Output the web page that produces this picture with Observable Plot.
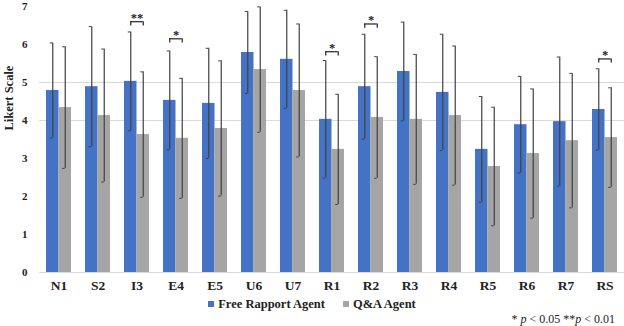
<!DOCTYPE html>
<html>
<head>
<meta charset="utf-8">
<script src="https://cdn.jsdelivr.net/npm/d3@7"></script>
<script src="https://cdn.jsdelivr.net/npm/@observablehq/plot@0.6"></script>
<style>
  html, body { margin: 0; padding: 0; background: #fff; }
  #wrap { width: 624px; height: 326px; overflow: hidden; }
  svg text { font-family: "Liberation Serif", "Times New Roman", serif; }
  svg [aria-label^="x-axis"] text { font-size: 13.5px; font-weight: bold; }
  svg [aria-label^="y-axis"] text { font-size: 11px; font-weight: bold; }
  .legend { height: 16px; display: flex; justify-content: center; align-items: center; gap: 18px;
    font-family: "Liberation Serif", "Times New Roman", serif; font-weight: bold; font-size: 12.5px; color: #222; }
  .legend span.sw { display: inline-block; width: 6px; height: 6px; margin-right: 4px; vertical-align: middle; }
  .legend .item { display: flex; align-items: center; }
  .note { height: 14px; text-align: right; padding-right: 9px; font-family: "Liberation Serif", "Times New Roman", serif;
    font-size: 12px; color: #222; line-height: 14px; }
</style>
</head>
<body>
<div id="wrap"></div>
<script>
const categories = ["N1","S2","I3","E4","E5","U6","U7","R1","R2","R3","R4","R5","R6","R7","RS"];
const freeMean = [4.79,4.89,5.03,4.53,4.45,5.79,5.61,4.03,4.89,5.29,4.74,3.24,3.89,3.97,4.29];
const freeSD   = [1.25,1.58,1.30,1.30,1.45,1.08,1.29,1.55,1.38,1.30,1.53,1.39,1.27,1.70,1.07];
const qaMean   = [4.34,4.13,3.63,3.53,3.79,5.34,4.79,3.24,4.08,4.03,4.13,2.79,3.13,3.47,3.55];
const qaSD     = [1.60,1.75,1.65,1.58,1.78,1.65,1.75,1.45,1.60,1.71,1.83,1.56,1.70,1.77,1.31];
const sigCats  = ["I3","E4","R1","R2","RS"];
const sigLevel = [6.6, 6.15, 5.81, 6.54, 5.62];
const sigLabel = ["**","*","*","*","*"];
const yTicks = [0,1,2,3,4,5,6,7];
const seriesNames = ["Free Rapport Agent","Q&A Agent"];
const colors = ["#4472C4","#A5A5A5"];

const W = 624, H = 296, mL = 39, mR = 0, mT = 6, mB = 24;
const padIn = 0.36, padOut = 0.18;
const bw = d3.scaleBand().domain(categories).range([mL, W - mR]).paddingInner(padIn).paddingOuter(padOut).bandwidth();
const q = bw / 4, cap = 2.5, leg = 0.11;

const rows = categories.map((c, i) => ({
  cat: c, free: freeMean[i], fLo: freeMean[i] - freeSD[i], fHi: freeMean[i] + freeSD[i],
  qa: qaMean[i], qLo: qaMean[i] - qaSD[i], qHi: Math.min(7, qaMean[i] + qaSD[i])
}));
const sig = sigCats.map((c, i) => ({cat: c, level: sigLevel[i], label: sigLabel[i]}));
const errStroke = "#404040";
const serif = "Liberation Serif, Times New Roman, serif";

const chart = Plot.plot({
  width: W, height: H, marginLeft: mL, marginRight: mR, marginTop: mT, marginBottom: mB,
  style: {fontFamily: serif, fontWeight: "bold", fontSize: "11px", color: "#222", background: "#fff"},
  x: {domain: categories, paddingInner: padIn, paddingOuter: padOut, round: false, tickSize: 0, tickPadding: 8, label: null},
  y: {domain: [0, 7], ticks: yTicks, tickFormat: "d", tickSize: 0, tickPadding: 12, label: null},
  marks: [
    Plot.ruleY([4, 5], {stroke: "#d9d9d9", strokeWidth: 1}),
    Plot.ruleY([0], {stroke: "#d9d9d9", strokeWidth: 1}),
    Plot.barY(rows, {x: "cat", y: "free", fill: colors[0], insetRight: bw / 2}),
    Plot.barY(rows, {x: "cat", y: "qa", fill: colors[1], insetLeft: bw / 2}),
    Plot.ruleX(rows, {x: "cat", y1: "fLo", y2: "fHi", dx: -q, stroke: errStroke, strokeWidth: 1.2}),
    Plot.ruleX(rows, {x: "cat", y1: "qLo", y2: "qHi", dx: q, stroke: errStroke, strokeWidth: 1.2}),
    Plot.tickY(rows, {x: "cat", y: "fHi", insetLeft: q - cap, insetRight: 3 * q, stroke: errStroke}),
    Plot.tickY(rows, {x: "cat", y: "fLo", insetLeft: q - cap, insetRight: 3 * q, stroke: errStroke}),
    Plot.tickY(rows, {x: "cat", y: "qHi", insetLeft: 3 * q - cap, insetRight: q, stroke: errStroke}),
    Plot.tickY(rows, {x: "cat", y: "qLo", insetLeft: 3 * q - cap, insetRight: q, stroke: errStroke}),
    Plot.tickY(sig, {x: "cat", y: "level", insetLeft: q, insetRight: q, stroke: "#222", strokeWidth: 1.2}),
    Plot.ruleX(sig, {x: "cat", y1: "level", y2: d => d.level - leg, dx: -q, stroke: "#222", strokeWidth: 1.2}),
    Plot.ruleX(sig, {x: "cat", y1: "level", y2: d => d.level - leg, dx: q, stroke: "#222", strokeWidth: 1.2}),
    Plot.text(sig, {x: "cat", y: "level", text: "label", dy: -4, fontSize: 12.5, fontWeight: "bold", fontFamily: serif, fill: "#222", lineAnchor: "middle"}),
    Plot.text(["Likert Scale"], {frameAnchor: "left", text: d => d, rotate: -90, dx: -31, dy: -9, fontSize: 12.5, fontWeight: "bold", fontFamily: serif, fill: "#222"})
  ]
});

const wrap = document.getElementById("wrap");
wrap.appendChild(chart);

const legend = document.createElement("div");
legend.className = "legend";
seriesNames.forEach((n, i) => {
  const it = document.createElement("div");
  it.className = "item";
  const sw = document.createElement("span");
  sw.className = "sw";
  sw.style.background = colors[i];
  it.appendChild(sw);
  it.appendChild(document.createTextNode(n));
  legend.appendChild(it);
});
wrap.appendChild(legend);

const note = document.createElement("div");
note.className = "note";
note.innerHTML = "* <i>p</i> &lt; 0.05 **<i>p</i> &lt; 0.01";
wrap.appendChild(note);
</script>
</body>
</html>
